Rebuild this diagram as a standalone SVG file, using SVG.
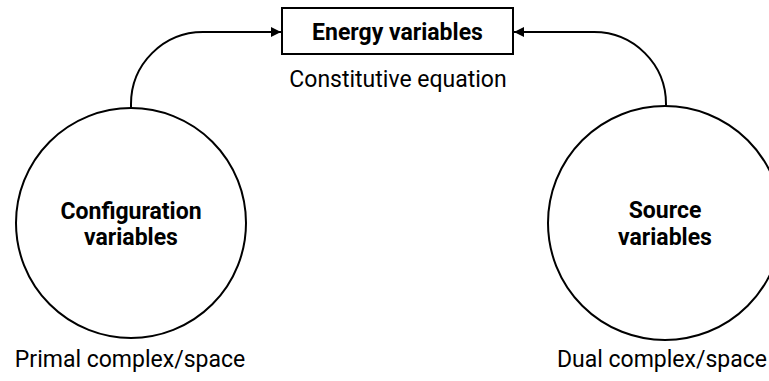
<svg xmlns="http://www.w3.org/2000/svg" width="769" height="381" viewBox="0 0 769 381">
<defs>
<marker id="arr" viewBox="0 0 10 10" refX="10" refY="5" markerWidth="10" markerHeight="10" markerUnits="userSpaceOnUse" orient="auto">
<path d="M0,0 L10,5 L0,10 Z" fill="#000"/>
</marker>
<style>
.n{fill:#fff;stroke:#000;stroke-width:2}
.b{font-family:Roboto,"Liberation Sans",sans-serif;font-weight:bold;font-size:23px;fill:#000;text-anchor:middle}
.r{font-family:Roboto,"Liberation Sans",sans-serif;font-size:23px;fill:#000;text-anchor:middle}
.c{fill:none;stroke:#000;stroke-width:2}
</style>
</defs>
<rect width="769" height="381" fill="#fff"/>
<g id="connectors">
<path class="c" d="M131,108 L131,104 A72,72 0 0 1 203,32 L281,32" marker-end="url(#arr)"/>
<path class="c" d="M666,108 L666,104 A72,72 0 0 0 594,32 L514,32" marker-end="url(#arr)"/>
</g>
<g id="energy">
<rect class="n" x="282" y="8" width="231" height="46"/>
<text class="b" x="397.5" y="40">Energy variables</text>
<text class="r" x="398" y="87">Constitutive equation</text>
</g>
<g id="configuration">
<circle class="n" cx="131" cy="223" r="115"/>
<text class="b" x="131" y="219">Configuration</text>
<text class="b" x="131" y="245">variables</text>
<text class="r" x="130" y="367">Primal complex/space</text>
</g>
<g id="source">
<circle class="n" cx="665" cy="223" r="117"/>
<text class="b" x="665" y="218">Source</text>
<text class="b" x="665" y="245">variables</text>
<text class="r" x="767" y="367" style="text-anchor:end">Dual complex/space</text>
</g>
</svg>
